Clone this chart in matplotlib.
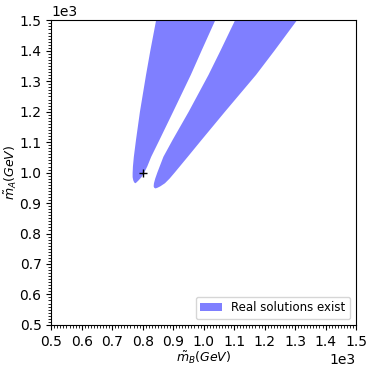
import matplotlib
matplotlib.use("Agg")
import matplotlib.pyplot as plt
from matplotlib.ticker import MultipleLocator

# Boundaries of the two regions where real solutions exist (GeV),
# read off the reference: heights and left/right edge at each height.
LEFT_Y = [1500, 1400, 1321, 1200, 1107, 1052, 1020, 998, 985, 975, 968, 965]
LEFT_XL = [844, 825, 811, 791, 778, 771, 768, 767, 767, 769, 772, 776]
LEFT_XR = [1038, 993, 958, 900, 855, 828, 815, 804, 796, 787, 780, 776]

RIGHT_Y = [1500, 1400, 1321, 1200, 1107, 1052, 1000, 980, 965, 955, 950, 948]
RIGHT_XL = [1103, 1055, 1016, 951, 898, 868, 848, 841, 837, 836, 838, 842]
RIGHT_XR = [1306, 1232, 1172, 1070, 993, 948, 905, 888, 873, 858, 848, 842]

# true point
M_B_TRUE = 800
M_A_TRUE = 1000


def band_polygon(ys, xl, xr):
    xs = list(xl) + list(xr)[::-1]
    yy = list(ys) + list(ys)[::-1]
    return xs, yy


fig = plt.figure(figsize=(3.74, 3.70), dpi=100)
ax = fig.add_axes([0.137, 0.122, 0.815, 0.823])

x1, y1 = band_polygon(LEFT_Y, LEFT_XL, LEFT_XR)
x2, y2 = band_polygon(RIGHT_Y, RIGHT_XL, RIGHT_XR)
ax.fill(x1, y1, color="blue", alpha=0.5, lw=0, label="Real solutions exist")
ax.fill(x2, y2, color="blue", alpha=0.5, lw=0)
ax.plot(M_B_TRUE, M_A_TRUE, "k+")

ax.set_xlim(500, 1500)
ax.set_ylim(500, 1500)
ax.xaxis.set_major_locator(MultipleLocator(100))
ax.yaxis.set_major_locator(MultipleLocator(100))
ax.xaxis.set_minor_locator(MultipleLocator(10))
ax.yaxis.set_minor_locator(MultipleLocator(10))
ax.ticklabel_format(style="sci", axis="both", scilimits=(0, 0))

ax.set_xlabel(r"$\tilde{m}_B(GeV)$", fontsize=9, labelpad=1)
ax.set_ylabel(r"$\tilde{m}_A(GeV)$", fontsize=9, labelpad=0)
ax.legend(loc="lower right", fontsize=8.5, handlelength=1.8)

fig.savefig("out.png", dpi=100)
